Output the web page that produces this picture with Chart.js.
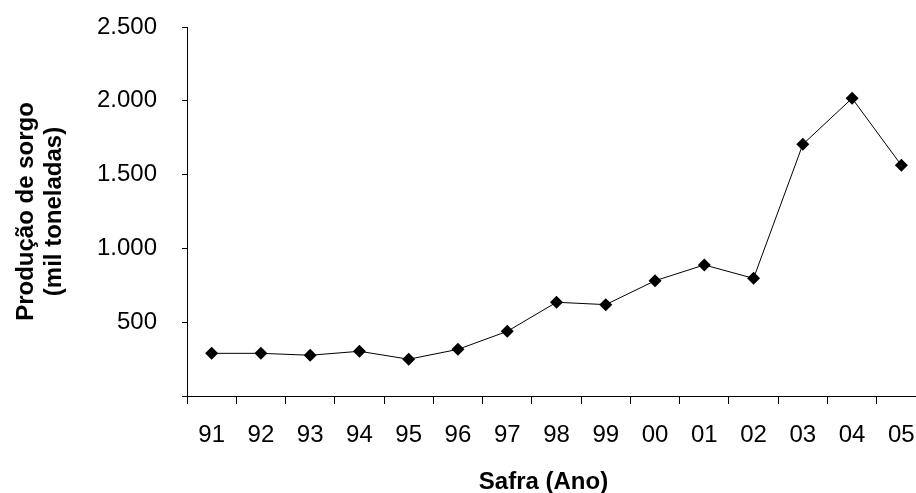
<!DOCTYPE html>
<html lang="pt-BR">
<head>
<meta charset="utf-8">
<title>Produção de sorgo</title>
<script src="https://cdn.jsdelivr.net/npm/chart.js@4.4.1/dist/chart.umd.min.js"></script>
<style>
  html, body { margin: 0; padding: 0; background: #fff; overflow: hidden; }
  #wrap { width: 940px; height: 493px; }
</style>
</head>
<body>
<div id="wrap"><canvas id="c" width="940" height="493"></canvas></div>
<script>
// Safras (ano) e produção de sorgo em mil toneladas
const safras = ['91', '92', '93', '94', '95', '96', '97', '98', '99', '00', '01', '02', '03', '04', '05'];
const producao = [289, 289, 276, 303, 249, 316, 438, 635, 619, 781, 888, 797, 1705, 2017, 1563];
const yTicks = [0, 500, 1000, 1500, 2000, 2500];
const yTitle = ['Produção de sorgo', '(mil toneladas)'];
const xTitle = 'Safra (Ano)';

const FONT = "'Liberation Sans', Arial, sans-serif";

function milhar(v) {
  return String(v).replace(/\B(?=(\d{3})+(?!\d))/g, '.');
}

// Título do eixo X, abaixo dos rótulos das safras
const xTitlePlugin = {
  id: 'xTitle',
  afterDraw(chart) {
    const { ctx, chartArea } = chart;
    ctx.save();
    ctx.font = "bold 24px " + FONT;
    ctx.fillStyle = '#000';
    ctx.textAlign = 'center';
    ctx.textBaseline = 'middle';
    ctx.fillText(xTitle, (chartArea.left + chartArea.right) / 2 - 13, 482);
    ctx.restore();
  }
};

new Chart(document.getElementById('c'), {
  type: 'line',
  data: {
    labels: safras,
    datasets: [{
      data: producao,
      borderColor: '#000',
      borderWidth: 1,
      backgroundColor: '#000',
      pointStyle: 'rectRot',
      pointRadius: 6.5,
      pointHoverRadius: 6.5,
      pointBorderWidth: 0,
      tension: 0,
      fill: false
    }]
  },
  options: {
    responsive: false,
    animation: false,
    events: [],
    layout: { padding: { top: 27, right: 14, bottom: 0, left: 0 } },
    plugins: { legend: { display: false }, tooltip: { enabled: false } },
    scales: {
      x: {
        type: 'category',
        offset: true,
        afterFit(scale) {
          scale.height = 97;
          scale.paddingLeft = 0;
          scale.paddingRight = 0;
        },
        border: { display: true, color: '#000', width: 1 },
        grid: { offset: true, drawOnChartArea: false, drawTicks: true, tickLength: 8, color: '#000', lineWidth: 1 },
        ticks: { color: '#000', font: { family: FONT, size: 24 }, padding: 17, maxRotation: 0, autoSkip: false }
      },
      y: {
        min: 0,
        max: 2500,
        afterFit(scale) {
          scale.width = 187;
          scale.paddingTop = 0;
          scale.paddingBottom = 0;
        },
        afterBuildTicks(scale) { scale.ticks = yTicks.map(v => ({ value: v })); },
        border: { display: true, color: '#000', width: 1 },
        grid: { drawOnChartArea: false, drawTicks: true, tickLength: 5, color: '#000', lineWidth: 1 },
        ticks: {
          color: '#000',
          font: { family: FONT, size: 24 },
          padding: 25,
          callback: v => (v === 0 ? '' : milhar(v))
        },
        title: {
          display: true,
          text: yTitle,
          color: '#000',
          font: { family: FONT, size: 24, weight: 'bold', lineHeight: 1.17 },
          padding: { top: 12.5, bottom: 0 }
        }
      }
    }
  },
  plugins: [xTitlePlugin]
});
</script>
</body>
</html>
